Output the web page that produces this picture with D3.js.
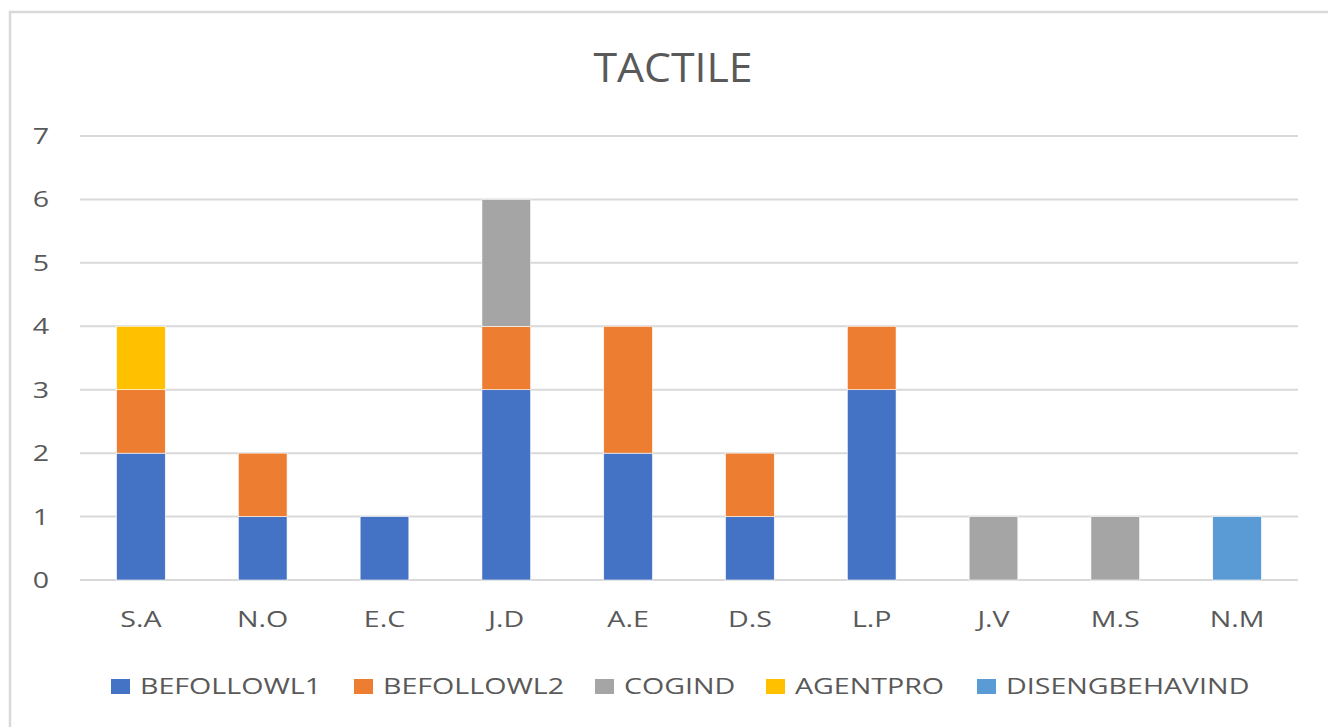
<!DOCTYPE html>
<html>
<head>
<meta charset="utf-8">
<script src="https://cdn.jsdelivr.net/npm/d3@7"></script>
<style>
  html, body { margin: 0; padding: 0; background: #fff; }
  svg { display: block; }
  text { font-family: "Open Sans", "Noto Sans", sans-serif; fill: #595959; }
</style>
</head>
<body>
<svg id="chart" width="1328" height="727"></svg>
<script>
// Students (categories along the x axis)
const categories = ["S.A", "N.O", "E.C", "J.D", "A.E", "D.S", "L.P", "J.V", "M.S", "N.M"];

// Stacked series, one value per student
const seriesNames = ["BEFOLLOWL1", "BEFOLLOWL2", "COGIND", "AGENTPRO", "DISENGBEHAVIND"];
const befollowl1     = [2, 1, 1, 3, 2, 1, 3, 0, 0, 0];
const befollowl2     = [1, 1, 0, 1, 2, 1, 1, 0, 0, 0];
const cogind         = [0, 0, 0, 2, 0, 0, 0, 1, 1, 0];
const agentpro       = [1, 0, 0, 0, 0, 0, 0, 0, 0, 0];
const disengbehavind = [0, 0, 0, 0, 0, 0, 0, 0, 0, 1];
const seriesColors = ["#4472C4", "#ED7D31", "#A5A5A5", "#FFC000", "#5B9BD5"];

const yTicks = [0, 1, 2, 3, 4, 5, 6, 7];
const title = "TACTILE";

const seriesValues = [befollowl1, befollowl2, cogind, agentpro, disengbehavind];
const rows = categories.map((c, i) => {
  const r = { cat: c };
  seriesNames.forEach((s, k) => { r[s] = seriesValues[k][i]; });
  return r;
});

const svg = d3.select("#chart");

// Text is drawn slightly widened horizontally
const SX = 1.3;
function placeText(sel, xf, yf, sx) {
  return sel.attr("x", 0).attr("y", 0)
    .attr("transform", (d, i) => `translate(${xf(d, i)},${yf(d, i)}) scale(${sx},1)`);
}

// Chart-area frame
svg.append("rect")
  .attr("x", 10).attr("y", 12)
  .attr("width", 1340).attr("height", 740)
  .attr("fill", "#fff")
  .attr("stroke", "#d9d9d9").attr("stroke-width", 2.5);

const plot = { left: 80, right: 1298, top: 136, bottom: 580 };

const x = d3.scaleBand()
  .domain(categories)
  .range([plot.left, plot.right])
  .paddingInner(0.6)
  .paddingOuter(0.3);

const y = d3.scaleLinear()
  .domain([0, 7])
  .range([plot.bottom, plot.top]);

// Horizontal gridlines
svg.append("g")
  .selectAll("line")
  .data(yTicks)
  .join("line")
  .attr("x1", plot.left).attr("x2", plot.right)
  .attr("y1", d => y(d)).attr("y2", d => y(d))
  .attr("stroke", "#d9d9d9").attr("stroke-width", 2);

// Y tick labels
placeText(
  svg.append("g").selectAll("text").data(yTicks).join("text"),
  () => 41, d => y(d) + 8, SX)
  .attr("text-anchor", "middle")
  .attr("font-size", 22)
  .text(d => d);

// Stacked bars
const stacked = d3.stack().keys(seriesNames)(rows);
svg.append("g")
  .selectAll("g")
  .data(stacked)
  .join("g")
  .attr("fill", (d, i) => seriesColors[i])
  .selectAll("rect")
  .data(d => d.filter(p => p[1] - p[0] > 0))
  .join("rect")
  .attr("x", d => x(d.data.cat))
  .attr("width", x.bandwidth())
  .attr("y", d => y(d[1]))
  .attr("height", d => y(d[0]) - y(d[1]))
  .attr("stroke", "#ffffff").attr("stroke-width", 0.6);

// Category labels
placeText(
  svg.append("g").selectAll("text").data(categories).join("text"),
  d => x(d) + x.bandwidth() / 2, () => 627, SX)
  .attr("text-anchor", "middle")
  .attr("font-size", 22)
  .text(d => d);

// Title
placeText(svg.append("text").datum(title), () => 673, () => 82, 1.07)
  .attr("text-anchor", "middle")
  .attr("font-size", 40)
  .text(d => d);

// Legend
const legendX = [111, 354, 595, 766, 977];
const legend = svg.append("g")
  .selectAll("g")
  .data(seriesNames)
  .join("g")
  .attr("transform", (d, i) => `translate(${legendX[i]},679)`);
legend.append("rect")
  .attr("width", 19).attr("height", 15)
  .attr("fill", (d, i) => seriesColors[i]);
placeText(legend.append("text"), () => 29, () => 15, SX)
  .attr("font-size", 22)
  .text(d => d);
</script>
</body>
</html>
